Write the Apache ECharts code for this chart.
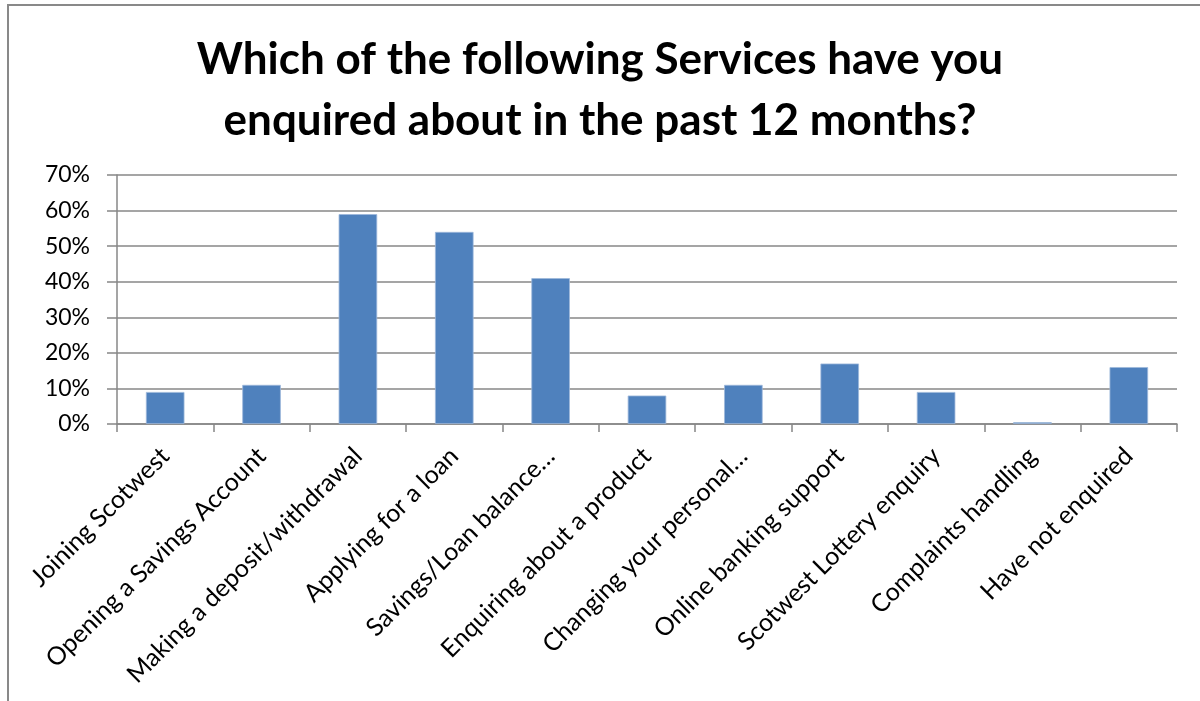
<!DOCTYPE html>
<html>
<head>
<meta charset="utf-8">
<script src="https://cdn.jsdelivr.net/npm/echarts@6/dist/echarts.min.js"></script>
<style>
  html, body { margin: 0; padding: 0; background: #fff; }
  #chart { width: 1200px; height: 701px; }
</style>
</head>
<body>
<div id="chart"></div>
<script>
// Survey: services enquired about in the past 12 months (share of respondents, %)
const categories = [
  'Joining Scotwest',
  'Opening a Savings Account',
  'Making a deposit/withdrawal',
  'Applying for a loan',
  'Savings/Loan balance…',
  'Enquiring about a product',
  'Changing your personal…',
  'Online banking support',
  'Scotwest Lottery enquiry',
  'Complaints handling',
  'Have not enquired'
];
const shares = [9, 11, 59, 54, 41, 8, 11, 17, 9, 0.5, 16];
const titleLines = ['Which of the following Services have you', 'enquired about in the past 12 months?'];

const FONT = 'Lato, "Open Sans", sans-serif';
const GRAY = '#878787';

const chart = echarts.init(document.getElementById('chart'), null, { renderer: 'canvas' });
chart.setOption({
  animation: false,
  backgroundColor: '#fff',
  title: {
    text: titleLines.join('\n'),
    left: 'center',
    top: 24,
    textStyle: {
      fontFamily: FONT,
      fontWeight: 'bold',
      fontSize: 44,
      lineHeight: 61,
      color: '#000'
    }
  },
  graphic: [{
    type: 'rect',
    shape: { x: 8, y: 5, width: 1400, height: 900 },
    style: { fill: 'none', stroke: '#898989', lineWidth: 2 },
    silent: true
  }],
  grid: { left: 117, right: 23, top: 175, bottom: 277, containLabel: false },
  xAxis: {
    type: 'category',
    data: categories,
    boundaryGap: true,
    axisLine: { show: true, lineStyle: { color: GRAY, width: 1.5 } },
    axisTick: { show: true, length: 8, alignWithLabel: false, lineStyle: { color: GRAY, width: 1.5 } },
    axisLabel: {
      rotate: 45,
      interval: 0,
      margin: 28,
      fontFamily: FONT,
      fontSize: 25,
      color: '#000'
    }
  },
  yAxis: {
    type: 'value',
    min: 0,
    max: 70,
    interval: 10,
    axisLine: { show: true, lineStyle: { color: GRAY, width: 1.5 } },
    axisTick: { show: true, length: 10, lineStyle: { color: GRAY, width: 1.5 } },
    splitLine: { show: true, lineStyle: { color: GRAY, width: 1.5 } },
    axisLabel: {
      formatter: v => v + '%',
      margin: 27,
      fontFamily: FONT,
      fontSize: 23,
      color: '#000'
    }
  },
  series: [{
    type: 'bar',
    data: shares,
    barWidth: '40%',
    itemStyle: { color: '#4F81BD', borderColor: '#9DB8DA', borderWidth: 0.8 }
  }]
});
</script>
</body>
</html>
